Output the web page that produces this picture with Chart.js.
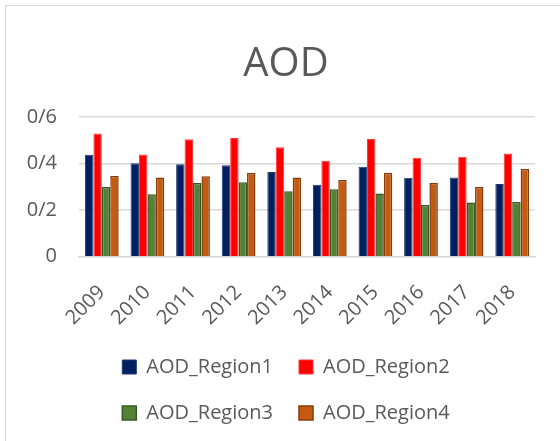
<!DOCTYPE html>
<html lang="en">
<head>
    <meta charset="UTF-8">
    <title>AOD</title>
    <script src="https://cdn.jsdelivr.net/npm/chart.js@4.4.1/dist/chart.umd.min.js"></script>
    <style>
        body { margin: 0; background: #fff; overflow: hidden; }
        #wrap { position: relative; width: 560px; height: 441px; }
        #frame {
            position: absolute; left: 5px; top: 5px; width: 600px; height: 500px;
            border: 1.5px solid #d9d9d9; pointer-events: none;
        }
    </style>
</head>
<body>
    <div id="wrap">
        <canvas id="myChart" width="560" height="441"></canvas>
        <div id="frame"></div>
    </div>
    <script>
        // years on the x axis
        const years = ['2009', '2010', '2011', '2012', '2013', '2014', '2015', '2016', '2017', '2018'];
        // AOD per region
        const region1 = [0.438, 0.401, 0.397, 0.393, 0.364, 0.309, 0.386, 0.339, 0.340, 0.312];
        const region2 = [0.529, 0.439, 0.504, 0.510, 0.470, 0.412, 0.506, 0.425, 0.429, 0.443];
        const region3 = [0.299, 0.268, 0.317, 0.320, 0.281, 0.290, 0.271, 0.222, 0.233, 0.235];
        const region4 = [0.347, 0.340, 0.345, 0.359, 0.340, 0.329, 0.361, 0.316, 0.299, 0.377];
        // y tick labels as written in the chart (slash as decimal mark)
        const yTickLabels = ['0', '0/2', '0/4', '0/6'];

        const txt = '#595959';
        const fontFam = '"Open Sans", sans-serif';

        var ctx = document.getElementById('myChart').getContext('2d');
        var myChart = new Chart(ctx, {
            type: 'bar',
            data: {
                labels: years,
                datasets: [
                    { label: 'AOD_Region1', data: region1, backgroundColor: '#002060', borderColor: '#1f3a78', borderWidth: 1 },
                    { label: 'AOD_Region2', data: region2, backgroundColor: '#ff0000', borderColor: '#ff3b3b', borderWidth: 1 },
                    { label: 'AOD_Region3', data: region3, backgroundColor: '#548235', borderColor: '#385723', borderWidth: 1.5 },
                    { label: 'AOD_Region4', data: region4, backgroundColor: '#c55a11', borderColor: '#843c0c', borderWidth: 1.5 }
                ]
            },
            options: {
                responsive: false,
                animation: false,
                layout: { padding: { left: 12, right: 0, top: 0, bottom: 8 } },
                datasets: { bar: { categoryPercentage: 0.74, barPercentage: 1 } },
                scales: {
                    x: {
                        grid: { display: false },
                        border: { color: '#d9d9d9', width: 1.5 },
                        ticks: {
                            color: txt, font: { family: fontFam, size: 20 },
                            minRotation: 45, maxRotation: 45, padding: 16
                        },
                        afterFit: function (scale) { scale.height -= 15; }
                    },
                    y: {
                        min: 0, max: 0.6,
                        border: { display: false },
                        grid: { color: '#d9d9d9', lineWidth: 1.5, drawTicks: false },
                        ticks: {
                            stepSize: 0.2, padding: 22,
                            color: txt, font: { family: fontFam, size: 20 },
                            callback: function (value, index) { return yTickLabels[index]; }
                        },
                        afterFit: function (scale) { scale.width = 67; }
                    },
                    // empty axis only to keep the right margin
                    yRight: {
                        position: 'right',
                        grid: { display: false },
                        border: { display: false },
                        ticks: { display: false },
                        afterFit: function (scale) { scale.width = 25; }
                    }
                },
                plugins: {
                    title: {
                        display: true, text: 'AOD', color: txt,
                        font: { family: fontFam, size: 40, weight: 'normal' },
                        padding: { top: 41, bottom: 28 }
                    },
                    legend: {
                        position: 'bottom',
                        maxWidth: 360,
                        labels: {
                            color: txt, font: { family: fontFam, size: 20 },
                            boxWidth: 14, boxHeight: 14, padding: 26
                        }
                    },
                    tooltip: { enabled: false }
                }
            }
        });
    </script>
</body>
</html>
